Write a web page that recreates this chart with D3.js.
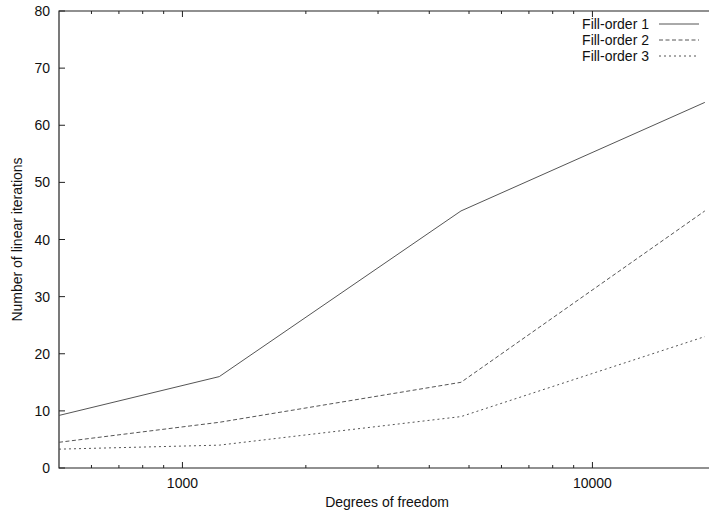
<!DOCTYPE html>
<html><head><meta charset="utf-8">
<script src="https://cdn.jsdelivr.net/npm/d3@7/dist/d3.min.js"></script>
<style>
html,body{margin:0;padding:0;background:#fff;}
text{font-family:"Liberation Sans",Arial,Helvetica,sans-serif;fill:#111;}
</style></head>
<body>
<svg id="chart" width="709" height="516"></svg>
<script>
const dof = [500, 1230, 4780, 18800];
const fillOrder1 = [9.2, 16, 45, 64];
const fillOrder2 = [4.5, 8, 15, 45];
const fillOrder3 = [3.3, 4, 9, 23];
const seriesNames = ["Fill-order 1", "Fill-order 2", "Fill-order 3"];
const yTicks = [0, 10, 20, 30, 40, 50, 60, 70, 80];
const xMajorTicks = [1000, 10000];
const xMinorTicks = [600, 700, 800, 900, 2000, 3000, 4000, 5000, 6000, 7000, 8000, 9000];

(function () {
const series = [fillOrder1, fillOrder2, fillOrder3];
const dashes = [null, "4,2.5", "2,3"];

const svg = d3.select("#chart");
const pl = 59, pt = 11, pb = 468;
const decade = 410;
const pr = pl + decade * Math.log10(20000 / 500);

const x = d3.scaleLog().domain([500, 20000]).range([pl, pr]);
const y = d3.scaleLinear().domain([0, 80]).range([pb, pt]);

const axisColor = "#222";
svg.append("path")
  .attr("d", `M${pr},${pt}H${pl}V${pb}H${pr}`)
  .attr("fill", "none").attr("stroke", axisColor).attr("stroke-width", 1.2);

yTicks.forEach(v => {
  svg.append("line").attr("x1", pl).attr("x2", pl + 6)
    .attr("y1", y(v)).attr("y2", y(v)).attr("stroke", axisColor);
  svg.append("text").attr("x", pl - 9).attr("y", y(v) + 5)
    .attr("text-anchor", "end").attr("font-size", 14).text(v);
});

xMajorTicks.forEach(v => {
  [[pb, -6], [pt, 6]].forEach(([yy, d]) => {
    svg.append("line").attr("x1", x(v)).attr("x2", x(v))
      .attr("y1", yy).attr("y2", yy + d).attr("stroke", axisColor);
  });
  svg.append("text").attr("x", x(v)).attr("y", pb + 20)
    .attr("text-anchor", "middle").attr("font-size", 14).text(v);
});
xMinorTicks.forEach(v => {
  [[pb, -3], [pt, 3]].forEach(([yy, d]) => {
    svg.append("line").attr("x1", x(v)).attr("x2", x(v))
      .attr("y1", yy).attr("y2", yy + d).attr("stroke", axisColor);
  });
});

svg.append("text").attr("x", 387).attr("y", 507)
  .attr("text-anchor", "middle").attr("font-size", 14).text("Degrees of freedom");
svg.append("text").attr("transform", `translate(22,${(pt + pb) / 2}) rotate(-90)`)
  .attr("text-anchor", "middle").attr("font-size", 14).text("Number of linear iterations");

svg.append("clipPath").attr("id", "clip").append("rect")
  .attr("x", pl).attr("y", pt).attr("width", pr - pl).attr("height", pb - pt);
const line = d3.line().x((d, i) => x(dof[i])).y(d => y(d));
series.forEach((s, i) => {
  svg.append("path").datum(s).attr("d", line)
    .attr("clip-path", "url(#clip)")
    .attr("fill", "none").attr("stroke", "#555").attr("stroke-width", 1)
    .attr("stroke-dasharray", dashes[i]);
});

seriesNames.forEach((n, i) => {
  const ly = 24 + i * 16;
  svg.append("text").attr("x", 649).attr("y", ly + 5)
    .attr("text-anchor", "end").attr("font-size", 14).text(n);
  svg.append("line").attr("x1", 659).attr("x2", 699).attr("y1", ly).attr("y2", ly)
    .attr("stroke", "#555").attr("stroke-width", 1).attr("stroke-dasharray", dashes[i]);
});
})();
</script>
</body></html>
